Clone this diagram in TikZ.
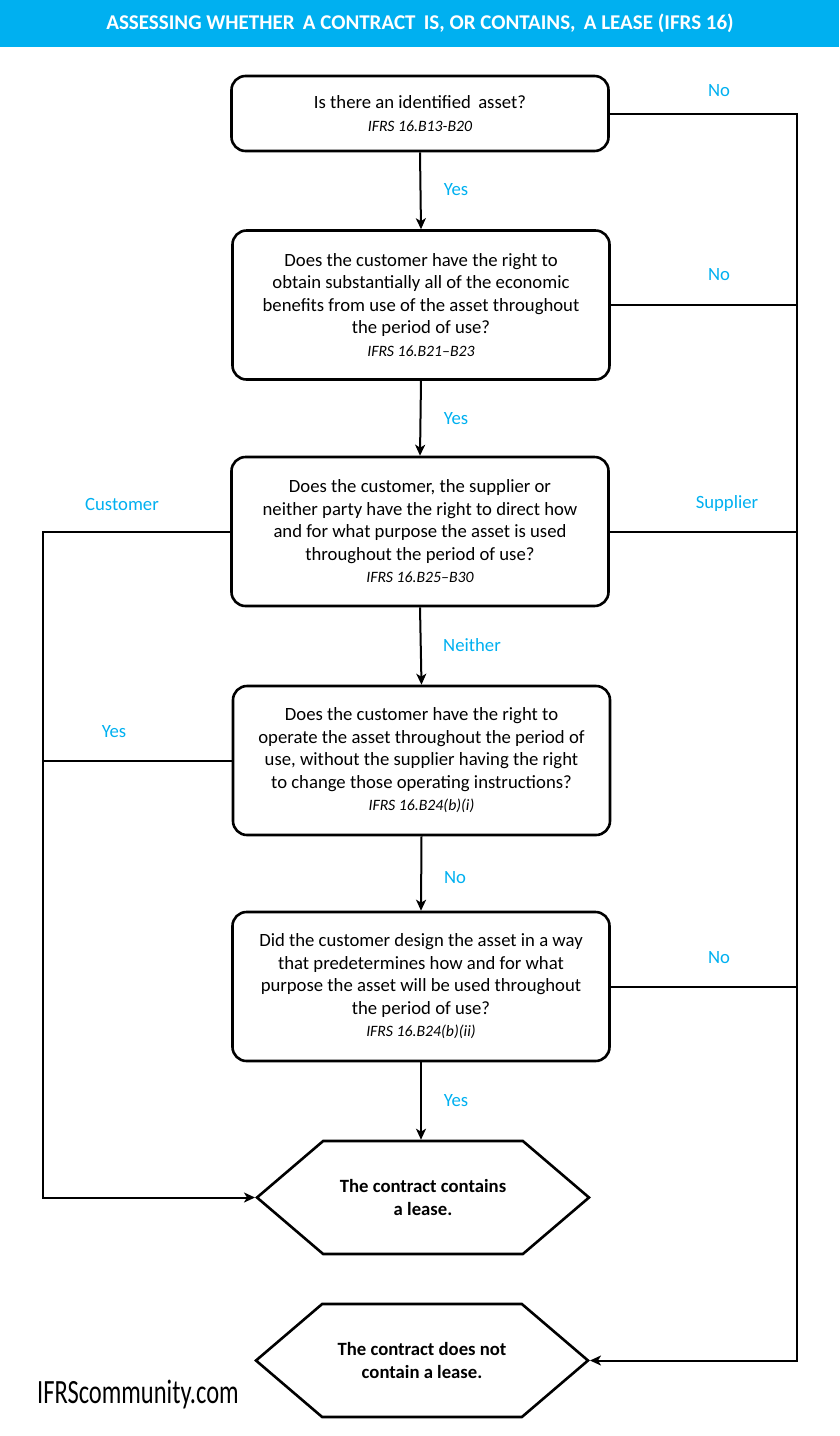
\documentclass[tikz,border=0pt]{standalone}
\usepackage{fontspec}
\setmainfont{Carlito}
\usetikzlibrary{positioning,calc,arrows.meta,shapes.symbols}
\definecolor{ifrsblue}{RGB}{0,176,240}
\newcommand\boxfont{\fontsize{18.7}{22.5}\selectfont}
\newcommand\ifrsref[1]{{\fontsize{15.8}{22.5}\selectfont\itshape #1}}
\tikzset{
  wire/.style    = {line width=2pt},
  link/.style    = {line width=2pt, -{Stealth[length=11pt,width=10pt,inset=3pt]}},
  qbox/.style    = {draw, line width=2.6pt, rounded corners=14pt, fill=white,
                    minimum width=377pt, minimum height=149pt, align=center,
                    inner sep=2pt, font=\boxfont},
  endbox/.style  = {draw, line width=2.6pt, signal, signal to=west and east,
                    signal pointer angle=81, minimum width=332pt,
                    minimum height=113pt, inner sep=2pt, align=center,
                    font=\boxfont\bfseries},
  lbl/.style     = {font=\boxfont, text=ifrsblue, inner sep=1pt},
}
\begin{document}
\begin{tikzpicture}[x=1pt,y=-1pt]
  \useasboundingbox (0,0) rectangle (839,1436);
  % title bar
  \fill[ifrsblue] (0,0) rectangle (839,47);
  \node[font=\fontsize{21}{23}\selectfont\bfseries, text=white] (title) at (420,23.5)
    {ASSESSING WHETHER\, A CONTRACT\, IS, OR CONTAINS,\, A LEASE (IFRS 16)};
  % questions
  \node[qbox, minimum height=75pt] (b1) at (420,113.5)
    {Is there an identified\, asset?\\ \ifrsref{IFRS 16.B13-B20}};
  \node[qbox] (b2) at (421,305)
    {Does the customer have the right to\\ obtain substantially all of the economic\\
     benefits from use of the asset throughout\\ the period of use?\\ \ifrsref{IFRS 16.B21--B23}};
  \node[qbox] (b3) at (420,531.5)
    {Does the customer, the supplier or\\ neither party have the right to direct how\\
     and for what purpose the asset is used\\ throughout the period of use?\\ \ifrsref{IFRS 16.B25--B30}};
  \node[qbox] (b4) at (421.5,760.5)
    {Does the customer have the right to\\ operate the asset throughout the period of\\
     use, without the supplier having the right\\ to change those operating instructions?\\ \ifrsref{IFRS 16.B24(b)(i)}};
  \node[qbox] (b5) at (421,986.5)
    {Did the customer design the asset in a way\\ that predetermines how and for what\\
     purpose the asset will be used throughout\\ the period of use?\\ \ifrsref{IFRS 16.B24(b)(ii)}};
  % outcomes
  \node[endbox] (lease) at (423,1197.5) {The contract contains\\ a lease.};
  \node[endbox] (nolease) at (422,1360.5) {The contract does not\\ contain a lease.};
  % down the middle
  \draw[link] (b1.south) -- (b2.north);
  \draw[link] (b2.south) -- (b3.north);
  \draw[link] (b3.south) -- (b4.north);
  \draw[link] (b4.south) -- (b5.north);
  \draw[link] (b5.south) -- (b5.south |- lease.north);
  \node[lbl] (y1) at (456,190) {Yes};
  \node[lbl] (y2) at (456,419) {Yes};
  \node[lbl] (ne) at (472,645) {Neither};
  \node[lbl] (n4) at (455,878) {No};
  \node[lbl] (y5) at (456,1101) {Yes};
  % right-hand rail
  \coordinate (rbus) at (797,0);
  \draw[link] (b1.east) -| (rbus |- nolease.east) -- (nolease.east);
  \draw[wire] (b2.east) -- (rbus |- b2.east);
  \draw[wire] (b3.east) -- (rbus |- b3.east);
  \draw[wire] (b5.east) -- (rbus |- b5.east);
  \node[lbl] (n1) at (719,91) {No};
  \node[lbl] (n2) at (719,275) {No};
  \node[lbl] (sup) at (727,504) {Supplier};
  \node[lbl] (n5) at (719,958) {No};
  % left-hand rail
  \coordinate (lbus) at (43,0);
  \draw[link] (b3.west) -| (lbus |- lease.west) -- (lease.west);
  \draw[wire] (b4.west) -- (lbus |- b4.west);
  \node[lbl] (cus) at (122,504) {Customer};
  \node[lbl] (y4) at (114,732) {Yes};
  % logo
  \node[inner sep=0pt] (logo) at (138,1395)
    {\scalebox{0.72}[1]{\fontsize{34}{34}\selectfont IFRScommunity.com}};
\end{tikzpicture}
\end{document}
